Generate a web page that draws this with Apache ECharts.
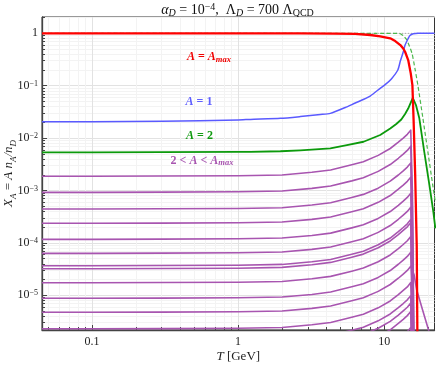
<!DOCTYPE html>
<html>
<head>
<meta charset="utf-8">
<script src="https://cdn.jsdelivr.net/npm/echarts@6/dist/echarts.min.js"></script>
<style>
  html, body { margin: 0; padding: 0; background: #fff; }
  #chart { width: 436px; height: 365px; }
</style>
</head>
<body>
<div id="chart"></div>
<script>
const SERIF = "'Liberation Serif', 'DejaVu Serif', serif";

// axis ranges and tick values
const xRange = [0.0455, 22.1];
const yRange = [2.18e-6, 2.05];
const xMajor = [0.1, 1, 10];
const xMinor = [0.05, 0.06, 0.07, 0.08, 0.09, 0.2, 0.3, 0.4, 0.5, 0.6, 0.7, 0.8, 0.9,
  2, 3, 4, 5, 6, 7, 8, 9, 20];
const yMajor = [1e-5, 1e-4, 1e-3, 1e-2, 1e-1, 1];
const yMinor = [3e-6, 4e-6, 5e-6, 6e-6, 7e-6, 8e-6, 9e-6,
  2e-5, 3e-5, 4e-5, 5e-5, 6e-5, 7e-5, 8e-5, 9e-5,
  2e-4, 3e-4, 4e-4, 5e-4, 6e-4, 7e-4, 8e-4, 9e-4,
  2e-3, 3e-3, 4e-3, 5e-3, 6e-3, 7e-3, 8e-3, 9e-3,
  0.02, 0.03, 0.04, 0.05, 0.06, 0.07, 0.08, 0.09,
  0.2, 0.3, 0.4, 0.5, 0.6, 0.7, 0.8, 0.9, 2];

// total (dotted) line
const tTotal = [0.0455, 22.1];
const xTotal = [1, 1];

// A = A_max
const tRed = [0.0455, 1, 2.67, 4.5, 6.34, 8.02, 9.39, 11.0, 11.9, 12.9, 13.5, 13.9, 14.6, 15.2, 15.6,
  15.9, 16.3, 16.7, 16.9, 17.1];
const xRed = [1, 0.999, 0.998, 0.99, 0.975, 0.93, 0.876, 0.803, 0.713, 0.598, 0.513, 0.445, 0.309, 0.172, 0.103,
  0.022, 0.002, 9e-5, 1e-6, 1e-8];

// A = 1
const tBlue = [0.0455, 0.1, 0.3, 1, 1.217, 1.95, 2.67, 3.66, 4.28, 5.42, 6.34, 7.19, 8.02, 9.39, 10.2, 11.2,
  12.4, 12.9, 13.5, 13.9, 14.6, 15.0, 15.8, 17.1, 22.1];
const xBlue = [0.0205, 0.0206, 0.021, 0.0222, 0.0228, 0.0239, 0.0258, 0.0282, 0.0297, 0.0384, 0.0468, 0.0545, 0.0636, 0.0892, 0.106, 0.135,
  0.1995, 0.296, 0.44, 0.598, 0.796, 0.908, 0.978, 1, 1];

// A = 2
const tGreen = [0.0455, 0.1, 0.3, 1, 1.217, 1.95, 2.67, 4.28, 5.56, 7.22, 9.39, 11.0, 12.1, 13.1, 13.9, 14.6, 15.3, 15.7,
  16.5, 17.4, 18.8, 20.4, 21.7, 22.4];
const xGreen = [0.00536, 0.00537, 0.0054, 0.00545, 0.00548, 0.00562, 0.00585, 0.00638, 0.00738, 0.00853, 0.01146, 0.01524,
  0.01858, 0.02264, 0.02884, 0.03672, 0.04992, 0.059,
  0.0428, 0.0239, 0.0055, 0.00127, 3.9e-4, 1.9e-4];

// dashed green
const tDashed = [0.0455, 10, 12.4, 12.9, 13.6, 14.3, 15.5, 16.3, 17.0, 18.4, 19.9, 21.5, 22.4];
const xDashed = [1, 1, 0.995, 0.985, 0.888, 0.745, 0.415, 0.2, 0.103, 0.0242, 0.0055, 0.00127, 6e-4];

// 2 < A < A_max
const tPurple = [0.0455, 0.1, 0.3, 1, 2, 3.2, 4.3, 6, 7.2, 9.1, 11, 12.5, 13.5, 14.4, 15.2];
const tFall = [15.6, 16.0, 16.4];
const tFallSlow = [15.6, 16.0, 16.7, 18.3, 20.1, 21.0];
const xPurple = [
  [1.87e-3, 1.87e-3, 1.89e-3, 1.91e-3, 1.98e-3, 2.23e-3, 2.47e-3, 3.10e-3, 3.55e-3, 4.69e-3, 6.34e-3, 8.36e-3, 1.00e-2, 1.18e-2, 1.42e-2, 9.4e-4, 1.1e-6, 1e-9],
  [9.24e-4, 9.24e-4, 9.32e-4, 9.45e-4, 9.79e-4, 1.10e-3, 1.22e-3, 1.53e-3, 1.76e-3, 2.32e-3, 3.13e-3, 4.13e-3, 4.96e-3, 5.83e-3, 7.01e-3, 4.6e-4, 5.3e-7, 1e-9],
  [4.44e-4, 4.44e-4, 4.48e-4, 4.54e-4, 4.70e-4, 5.28e-4, 5.86e-4, 7.37e-4, 8.44e-4, 1.11e-3, 1.51e-3, 1.98e-3, 2.38e-3, 2.80e-3, 3.37e-3, 2.2e-4, 2.6e-7, 1e-9],
  [2.37e-4, 2.37e-4, 2.39e-4, 2.42e-4, 2.51e-4, 2.82e-4, 3.13e-4, 3.93e-4, 4.50e-4, 5.95e-4, 8.03e-4, 1.06e-3, 1.27e-3, 1.50e-3, 1.80e-3, 1.2e-4, 1.4e-7, 1e-9],
  [1.17e-4, 1.17e-4, 1.18e-4, 1.20e-4, 1.24e-4, 1.39e-4, 1.54e-4, 1.94e-4, 2.22e-4, 2.94e-4, 3.97e-4, 5.23e-4, 6.28e-4, 7.38e-4, 8.88e-4, 5.9e-5, 6.7e-8, 1e-9],
  [6.33e-5, 6.33e-5, 6.39e-5, 6.48e-5, 6.70e-5, 7.53e-5, 8.36e-5, 1.05e-4, 1.20e-4, 1.59e-4, 2.15e-4, 2.83e-4, 3.40e-4, 3.99e-4, 4.80e-4, 3.2e-5, 3.6e-8, 1e-9],
  [3.67e-5, 3.67e-5, 3.70e-5, 3.75e-5, 3.89e-5, 4.37e-5, 4.84e-5, 6.09e-5, 6.97e-5, 9.21e-5, 1.24e-4, 1.64e-4, 1.97e-4, 2.32e-4, 2.79e-4, 1.8e-5, 2.1e-8, 1e-9],
  [3.22e-5, 3.22e-5, 3.25e-5, 3.29e-5, 3.41e-5, 3.83e-5, 4.25e-5, 5.35e-5, 6.12e-5, 8.08e-5, 1.09e-4, 1.44e-4, 1.73e-4, 2.03e-4, 2.44e-4, 1.6e-5, 1.9e-8, 1e-9],
  [1.74e-5, 1.74e-5, 1.76e-5, 1.78e-5, 1.84e-5, 2.07e-5, 2.30e-5, 2.89e-5, 3.31e-5, 4.37e-5, 5.90e-5, 7.78e-5, 9.34e-5, 1.10e-4, 1.32e-4, 8.7e-6, 1.0e-8, 1e-9],
  [8.77e-6, 8.77e-6, 8.85e-6, 8.97e-6, 9.29e-6, 1.04e-5, 1.16e-5, 1.46e-5, 1.67e-5, 2.20e-5, 2.97e-5, 3.92e-5, 4.71e-5, 5.53e-5, 6.66e-5, 4.4e-6, 5e-9, 1e-9],
  [4.74e-6, 4.74e-6, 4.78e-6, 4.85e-6, 5.02e-6, 5.64e-6, 6.26e-6, 7.87e-6, 9.01e-6, 1.19e-5, 1.61e-5, 2.12e-5, 2.55e-5, 2.99e-5, 3.60e-5, 3.3e-5, 2.5e-5, 1.26e-5, 5.3e-6, 2.2e-6, 1.4e-6],
  [2.3e-6, 2.3e-6, 2.32e-6, 2.35e-6, 2.44e-6, 2.74e-6, 3.04e-6, 3.82e-6, 4.37e-6, 5.77e-6, 7.80e-6, 1.03e-5, 1.24e-5, 1.45e-5, 1.75e-5, 1.2e-6, 1.3e-9, 1e-9],
  [1.3e-6, 1.3e-6, 1.31e-6, 1.33e-6, 1.38e-6, 1.55e-6, 1.72e-6, 2.16e-6, 2.47e-6, 3.26e-6, 4.41e-6, 5.81e-6, 6.98e-6, 8.20e-6, 9.87e-6, 6.5e-7, 7.5e-10, 1e-10],
  [9.4e-7, 9.4e-7, 9.48e-7, 9.62e-7, 9.95e-7, 1.12e-6, 1.24e-6, 1.56e-6, 1.79e-6, 2.36e-6, 3.19e-6, 4.20e-6, 5.05e-6, 5.93e-6, 7.13e-6, 4.7e-7, 5.4e-10, 1e-10],
  [6.5e-7, 6.5e-7, 6.56e-7, 6.65e-7, 6.88e-7, 7.74e-7, 8.58e-7, 1.08e-6, 1.24e-6, 1.63e-6, 2.20e-6, 2.91e-6, 3.49e-6, 4.10e-6, 4.93e-6, 3.3e-7, 3.7e-10, 1e-10],
  [3.2e-7, 3.2e-7, 3.23e-7, 3.27e-7, 3.39e-7, 3.81e-7, 4.22e-7, 5.31e-7, 6.08e-7, 8.03e-7, 1.08e-6, 1.43e-6, 1.72e-6, 2.02e-6, 2.43e-6, 1.6e-7, 1.8e-10, 1e-10],
];

const zip = (ts, xs) => ts.map((t, i) => [t, xs[i]]);

function lineSeries(data, color, width, extra) {
  return Object.assign({
    type: "line",
    data: data,
    showSymbol: false,
    symbol: "none",
    clip: true,
    silent: true,
    smooth: false,
    lineStyle: { color: color, width: width, join: "round" },
  }, extra || {});
}

const purpleSeries = xPurple.map((xs) => {
  const ts = tPurple.concat(xs.length > tPurple.length + tFall.length ? tFallSlow : tFall);
  return lineSeries(zip(ts, xs), "#a855b0", 1.6, { z: 3 });
});

const supRich = {
  sup: { fontFamily: SERIF, fontSize: 8, lineHeight: 8, verticalAlign: "top", color: "#222" },
};

function majorLabel(v) {
  const e = Math.round(Math.log10(v));
  if (e === 0) return "1";
  return "10{sup|\u2212" + Math.abs(e) + "}";
}

function annotation(x, y, text, color) {
  return {
    type: "text", x: x, y: y, silent: true, z: 100,
    style: {
      text: text, align: "center", verticalAlign: "middle",
      rich: {
        i: { fontFamily: SERIF, fontSize: 12, fontStyle: "italic", fontWeight: "bold", fill: color, lineHeight: 14, verticalAlign: "middle" },
        n: { fontFamily: SERIF, fontSize: 12, fontWeight: "bold", fill: color, lineHeight: 14, verticalAlign: "middle" },
        s: { fontFamily: SERIF, fontSize: 8.5, fontStyle: "italic", fontWeight: "bold", fill: color, lineHeight: 8, verticalAlign: "bottom" },
      },
    },
  };
}

const chart = echarts.init(document.getElementById("chart"), null, { renderer: "canvas" });

chart.setOption({
  animation: false,
  backgroundColor: "#fff",
  grid: {
    left: 42, top: 17, right: 1.5, bottom: 35,
    show: true, borderColor: "#333", borderWidth: 1,
    outerBoundsMode: "none",
  },
  xAxis: [
    {
      type: "log", logBase: 10, min: xRange[0], max: xRange[1], position: "bottom",
      axisLine: { show: true, lineStyle: { color: "#444", width: 1.3 } },
      axisTick: { show: true, inside: true, length: 5, customValues: xMajor, lineStyle: { color: "#444" } },
      axisLabel: {
        customValues: xMajor, margin: 6, color: "#222", fontFamily: SERIF, fontSize: 12,
        formatter: (v) => String(+v.toPrecision(3)),
      },
      splitLine: { show: true, lineStyle: { color: "#e2e2e2", width: 1 } },
      minorTick: { show: false },
      name: "{i|T} [GeV]", nameLocation: "middle", nameGap: 20, nameMoveOverlap: false,
      nameTextStyle: {
        fontFamily: SERIF, fontSize: 13, color: "#222",
        rich: { i: { fontFamily: SERIF, fontSize: 13, fontStyle: "italic", color: "#222" } },
      },
    },
    {
      type: "log", logBase: 10, min: xRange[0], max: xRange[1], position: "bottom",
      axisLine: { show: false },
      axisTick: { show: true, inside: true, length: 3, customValues: xMinor, lineStyle: { color: "#444" } },
      axisLabel: { show: false },
      splitLine: { show: true, lineStyle: { color: "#f3f3f3", width: 1 } },
    },
  ],
  yAxis: [
    {
      type: "log", logBase: 10, min: yRange[0], max: yRange[1], position: "left",
      axisLine: { show: true, lineStyle: { color: "#444", width: 1.3 } },
      axisTick: { show: true, inside: true, length: 5, customValues: yMajor, lineStyle: { color: "#444" } },
      axisLabel: {
        customValues: yMajor, margin: 4, color: "#222", fontFamily: SERIF, fontSize: 12,
        formatter: majorLabel, rich: supRich,
      },
      splitLine: { show: true, lineStyle: { color: "#e2e2e2", width: 1 } },
      name: "{i|X}{s|A}{n| = }{i|A n}{s|A}{i|/n}{s|D}", nameLocation: "middle", nameGap: 24,
      nameMoveOverlap: false,
      nameTextStyle: {
        fontFamily: SERIF, fontSize: 13, color: "#222",
        rich: {
          i: { fontFamily: SERIF, fontSize: 13, fontStyle: "italic", color: "#222", lineHeight: 16, verticalAlign: "top" },
          n: { fontFamily: SERIF, fontSize: 13, color: "#222", lineHeight: 16, verticalAlign: "top" },
          s: { fontFamily: SERIF, fontSize: 9, fontStyle: "italic", color: "#222", lineHeight: 9, verticalAlign: "bottom" },
        },
      },
    },
    {
      type: "log", logBase: 10, min: yRange[0], max: yRange[1], position: "left",
      axisLine: { show: false },
      axisTick: { show: true, inside: true, length: 3, customValues: yMinor, lineStyle: { color: "#444" } },
      axisLabel: { show: false },
      splitLine: { show: true, lineStyle: { color: "#f3f3f3", width: 1 } },
    },
  ],
  graphic: [
    {
      type: "text", x: 237.5, y: 10, silent: true,
      style: {
        text: "{i|\u03b1}{sub|D}{n| = 10}{sup|\u22124}{n|,  \u039b}{sub|D}{n| = 700 \u039b}{subn|QCD}",
        align: "center", verticalAlign: "middle",
        rich: {
          i: { fontFamily: SERIF, fontSize: 14, fontStyle: "italic", fill: "#111", lineHeight: 16, verticalAlign: "middle" },
          n: { fontFamily: SERIF, fontSize: 14, fill: "#111", lineHeight: 16, verticalAlign: "middle" },
          sub: { fontFamily: SERIF, fontSize: 10, fontStyle: "italic", fill: "#111", lineHeight: 10, verticalAlign: "bottom" },
          subn: { fontFamily: SERIF, fontSize: 10, fill: "#111", lineHeight: 10, verticalAlign: "bottom" },
          sup: { fontFamily: SERIF, fontSize: 10, fill: "#111", lineHeight: 10, verticalAlign: "top" },
        },
      },
    },
    annotation(209, 57, "{i|A}{n| = }{i|A}{s|max}", "#f00000"),
    annotation(199, 101.5, "{i|A}{n| = 1}", "#6060ff"),
    annotation(199.5, 136, "{i|A}{n| = 2}", "#109a10"),
    annotation(202, 160.5, "{n|2 < }{i|A}{n| < }{i|A}{s|max}", "#a855b0"),
  ],
  series: [
    lineSeries(zip(tTotal, xTotal), "#aaaaaa", 1, { z: 1, lineStyle: { color: "#aaaaaa", width: 1, type: [1, 2] } }),
    lineSeries(zip(tDashed, xDashed), "#4cb84c", 1.2, { z: 2, smooth: 0.2, lineStyle: { color: "#4cb84c", width: 1.2, type: [4, 2.5] } }),
    ...purpleSeries,
    lineSeries(zip(tGreen, xGreen), "#0c9a0c", 1.8, { z: 4 }),
    lineSeries(zip(tBlue, xBlue), "#5a5aff", 1.5, { z: 5, smooth: 0.2 }),
    lineSeries(zip(tRed, xRed), "#ff0000", 2.3, { z: 6 }),
  ],
});
</script>
</body>
</html>
